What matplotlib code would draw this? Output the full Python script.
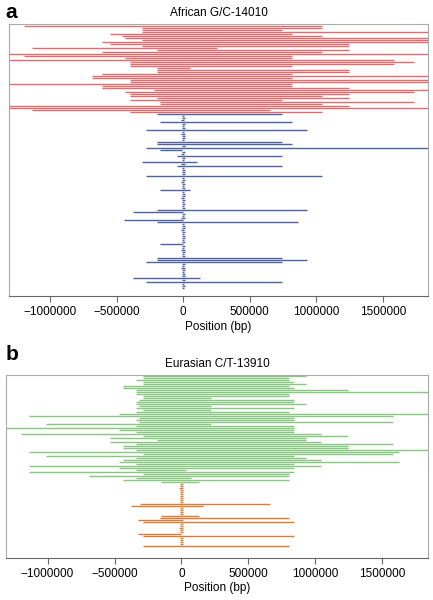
"""Haplotype extents around the lactase-persistence SNPs (African vs Eurasian)."""

import matplotlib

matplotlib.use("Agg")
import matplotlib.pyplot as plt
import numpy as np

plt.rcParams["font.family"] = ["Liberation Sans", "DejaVu Sans"]

# extents in kb relative to the SNP, one row per haplotype (top to bottom)
# panel a: carriers of the derived allele (red), ancestral allele (blue)
red_left = [-1195, -311, -311, -311, -549, -461, -436, -311, -611, -549, -311,
            -1138, -198, -611, -1400, -1195, -436, -1400, -398, -398, -398, -198,
            -198, -198, -611, -687, -687, -398, -398, -1400, -611, -611, -222,
            -436, -398, -398, -198, -398, -173, -173, -1400, -1400, -1138, -398]
red_right = [1043, 1043, 742, 1950, 817, 1043, 1950, 1950, 1950, 1243, 1243,
             253, 1243, 1043, 1950, 817, 817, 1581, 1732, 1581, 817, 53,
             1243, 1243, 817, 1950, 817, 1950, 1950, 817, 817, 1243, 1950,
             1732, 1243, 1043, 1243, 742, 1732, 1043, 1243, 1950, 654, 1043]

blue_left = [-198, -12, -10, -15, -173, -8, -12, -10, -278, -12, -15, -10,
             -12, -8, -198, -198, -12, -278, -173, -10, -15, -47, -12, -10,
             -311, -15, -47, -12, -10, -8, -12, -278, -10, -12, -15, -10,
             -8, -12, -173, -10, -12, -8, -15, -10, -12, -10, -12, -10,
             -198, -376, -12, -10, -15, -444, -198, -12, -10, -8, -15, -12,
             -10, -12, -8, -10, -12, -173, -10, -12, -15, -10, -12, -8,
             -198, -198, -278, -12, -10, -15, -12, -10, -8, -12, -376, -10,
             -278, -12, -10, -8]
blue_right = [742, 8, 10, 6, 817, 12, 8, 10, 930, 8, 10, 12,
              10, 8, 742, 817, 10, 1950, -10, 10, 8, 742, 10, 8,
              103, 12, 742, 8, 10, 12, 10, 1043, 8, 10, 8, 10,
              8, 12, 53, 8, 10, 10, 8, 12, 8, 10, 8, 10,
              930, 0, 10, 8, 12, 0, 860, 8, 10, 12, 8, 10,
              8, 12, 10, 8, 10, 0, 10, 8, 10, 12, 8, 10,
              742, 930, 742, 10, 8, 12, 10, 8, 10, 12, 128, 10,
              742, 8, 10, 8]

# panel b: derived allele (green), ancestral allele (orange)
green_left = [-284, -284, -338, -284, -284, -438, -438, -338, -338, -338, -284,
              -284, -318, -338, -338, -318, -338, -284, -338, -463, -1139, -318,
              -338, -318, -1015, -338, -1400, -463, -338, -1196, -284, -537, -184,
              -537, -338, -438, -438, -338, -1139, -284, -1015, -338, -438, -463,
              -338, -1139, -463, -338, -1139, -284, -687, -338, -438, -152]
green_right = [931, 806, 806, 843, 931, 806, 843, 1241, 1950, 806, 806,
               222, 843, 843, 931, 222, 843, 222, 806, 1950, 1577, 843,
               843, 1577, 222, 843, 843, 843, 843, 1043, 1241, 931, 931,
               1043, 1577, 1241, 1241, 1950, 1627, 1577, 843, 931, 1043, 1627,
               843, 1043, 843, 35, 843, 806, 806, 72, 806, 134]

orange_left = [-12, -10, -15, -8, -12, -10, -12, -8, -10, -12, -313, -375,
               -10, -12, -8, -10, -152, -164, -326, -284, -12, -10, -15, -8,
               -12, -326, -284, -10, -12, -8, -12, -284]
orange_right = [10, 8, 12, 10, 8, 12, 10, 8, 10, 12, 657, 159,
                8, 10, 12, 8, 134, 806, 10, 843, 10, 8, 12, 10,
                8, 0, 843, 10, 8, 12, 10, 806]

XLIM = (-1310000, 1840000)
XTICKS = [-1000000, -500000, 0, 500000, 1000000, 1500000]


def draw_panel(ax, groups, ylim, title):
    row = 0
    for left, right, color in groups:
        y = np.arange(row, row + len(left))
        ax.hlines(y, np.array(left) * 1000, np.array(right) * 1000,
                  colors=color, linewidth=1.0)
        row += len(left)
    ax.set_xlim(*XLIM)
    ax.set_ylim(*ylim)
    ax.set_yticks([])
    ax.set_xticks(XTICKS)
    ax.set_xticklabels([f"{t:d}".replace("-", "\u2212") for t in XTICKS],
                       fontsize=8.5)
    ax.tick_params(axis="x", direction="out", length=4, width=0.8,
                   color="#666666", pad=3)
    ax.set_xlabel("Position (bp)", fontsize=8.5, labelpad=2)
    ax.set_title(title, fontsize=8.5, pad=6)
    for side in ("top", "left", "right"):
        ax.spines[side].set_color("#aaaaaa")
        ax.spines[side].set_linewidth(0.8)
    ax.spines["bottom"].set_color("#666666")
    ax.spines["bottom"].set_linewidth(0.8)


fig = plt.figure(figsize=(4.33, 6.0), dpi=100)

ax_a = fig.add_axes([9 / 433, 1 - 296 / 600, 419 / 433, 272 / 600])
draw_panel(ax_a, [(red_left, red_right, "#e8696b"),
                  (blue_left, blue_right, "#4d62a0")],
           (135, -1), "African G/C-14010")

ax_b = fig.add_axes([6 / 433, 1 - 558 / 600, 422 / 433, 183 / 600])
draw_panel(ax_b, [(green_left, green_right, "#86c97e"),
                  (orange_left, orange_right, "#e07a30")],
           (91, -0.5), "Eurasian C/T-13910")

fig.text(0.012, 0.995, "a", fontsize=15, fontweight="bold", va="top")
fig.text(0.012, 0.425, "b", fontsize=15, fontweight="bold", va="top")

fig.savefig("out.png", dpi=100)
